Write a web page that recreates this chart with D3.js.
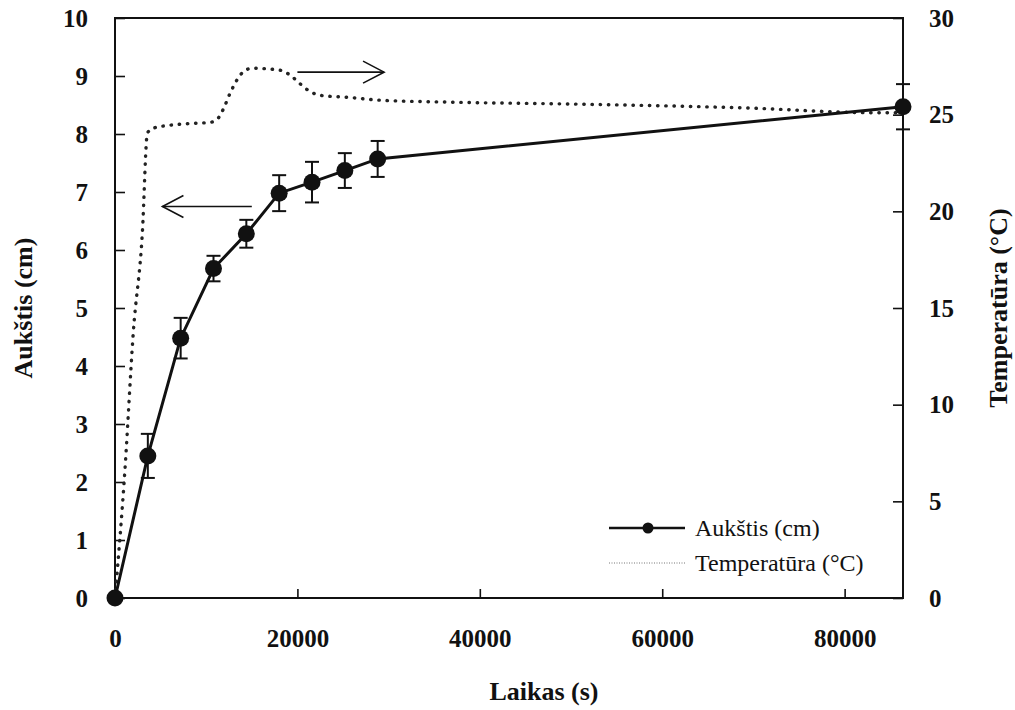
<!DOCTYPE html>
<html>
<head>
<meta charset="utf-8">
<script src="https://cdn.jsdelivr.net/npm/d3@7"></script>
<style>
	body { margin: 0; background: #fff; }
	svg text { font-family: 'Liberation Serif', 'Times New Roman', serif; fill: #111; }
	.tick text { font-size: 25px; font-weight: bold; }
	.title { font-size: 26px; font-weight: bold; }
	.legend text { font-size: 24px; }
</style>
</head>
<body>
<svg id="chart" width="1015" height="710"></svg>
<script>
// sampling times of the height measurements (s)
var timeS = [0, 3600, 7200, 10800, 14400, 18000, 21600, 25200, 28800, 86400];
var heightCm = [0, 2.45, 4.48, 5.68, 6.28, 6.98, 7.17, 7.37, 7.57, 8.47];
var heightErr = [0, 0.38, 0.35, 0.22, 0.24, 0.31, 0.35, 0.3, 0.31, 0.39];

// temperature log
var tempTimeS = [0, 1100, 2000, 3000, 3550, 4200, 6000, 8500, 10400, 11180, 11840, 12610, 13380, 14030, 15020, 18090, 19190, 20280, 21380, 22480, 25440, 29000, 36400, 50000, 69000, 83500, 86400];
var tempC = [0, 6.7, 13.7, 18.9, 24.05, 24.3, 24.45, 24.55, 24.6, 24.75, 25.25, 26.1, 26.8, 27.2, 27.4, 27.3, 27.05, 26.6, 26.2, 26.0, 25.9, 25.75, 25.65, 25.55, 25.35, 25.1, 25.1];

var xTicks = [0, 20000, 40000, 60000, 80000];
var heightTicks = [0, 1, 2, 3, 4, 5, 6, 7, 8, 9, 10];
var tempTicks = [0, 5, 10, 15, 20, 25, 30];

// arrows pointing at each curve's axis: [t start, t end, value]
var heightArrow = [15000, 5200, 6.75];
var tempArrow = [20000, 29500, 27.2];

var legendLabels = ['Aukštis (cm)', 'Temperatūra (°C)'];

var margin = {top: 18, right: 112, bottom: 112, left: 115},
	width = 1015 - margin.left - margin.right,
	height = 710 - margin.top - margin.bottom;

var svg = d3.select('#chart');
var g = svg.append('g').attr('transform', 'translate(' + margin.left + ',' + margin.top + ')');

var x = d3.scaleLinear().domain([0, 86400]).range([0, width]);
var yH = d3.scaleLinear().domain([0, 10]).range([height, 0]);
var yT = d3.scaleLinear().domain([0, 30]).range([height, 0]);

function styleAxis(sel) {
	sel.select('.domain').remove();
	sel.selectAll('.tick line').attr('stroke', '#111').attr('stroke-width', 1.6);
}

g.append('g')
	.attr('transform', 'translate(0,' + height + ')')
	.call(d3.axisBottom(x).tickValues(xTicks).tickFormat(d3.format('d')).tickSizeInner(-9).tickSizeOuter(0).tickPadding(31))
	.call(styleAxis);

g.append('g')
	.call(d3.axisLeft(yH).tickValues(heightTicks).tickSizeInner(-10).tickSizeOuter(0).tickPadding(27))
	.call(styleAxis);

g.append('g')
	.attr('transform', 'translate(' + width + ',0)')
	.call(d3.axisRight(yT).tickValues(tempTicks).tickSizeInner(-10).tickSizeOuter(0).tickPadding(26))
	.call(styleAxis);

svg.selectAll('.tick text').attr('font-family', null).attr('font-size', null);

g.append('rect')
	.attr('width', width)
	.attr('height', height)
	.attr('fill', 'none')
	.attr('stroke', '#111')
	.attr('stroke-width', 2);

// temperature, dotted
var tempLine = d3.line()
	.x(function (d) { return x(d[0]); })
	.y(function (d) { return yT(d[1]); })
	.curve(d3.curveMonotoneX);

g.append('path')
	.datum(d3.zip(tempTimeS, tempC))
	.attr('d', tempLine)
	.attr('fill', 'none')
	.attr('stroke', '#222')
	.attr('stroke-width', 3.4)
	.attr('stroke-linecap', 'round')
	.attr('stroke-dasharray', '0.4 7.8');

// height with error bars
var heightData = timeS.map(function (t, i) {
	return {t: t, h: heightCm[i], e: heightErr[i]};
});

var bars = g.append('g').attr('stroke', '#111').attr('stroke-width', 2);
heightData.forEach(function (d) {
	if (!d.e) return;
	var cx = x(d.t), top = yH(d.h + d.e), bot = yH(d.h - d.e);
	bars.append('line').attr('x1', cx).attr('x2', cx).attr('y1', top).attr('y2', bot);
	bars.append('line').attr('x1', cx - 7).attr('x2', cx + 7).attr('y1', top).attr('y2', top);
	bars.append('line').attr('x1', cx - 7).attr('x2', cx + 7).attr('y1', bot).attr('y2', bot);
});

g.append('path')
	.datum(heightData)
	.attr('d', d3.line().x(function (d) { return x(d.t); }).y(function (d) { return yH(d.h); }))
	.attr('fill', 'none')
	.attr('stroke', '#111')
	.attr('stroke-width', 3);

g.selectAll('circle.pt')
	.data(heightData)
	.enter().append('circle')
	.attr('class', 'pt')
	.attr('cx', function (d) { return x(d.t); })
	.attr('cy', function (d) { return yH(d.h); })
	.attr('r', 8.5)
	.attr('fill', '#111');

// arrows
function arrow(x1, x2, yy) {
	var dir = x2 > x1 ? -1 : 1;
	var a = g.append('g').attr('stroke', '#111').attr('stroke-width', 1.6).attr('fill', 'none');
	a.append('line').attr('x1', x1).attr('x2', x2).attr('y1', yy).attr('y2', yy);
	a.append('path').attr('d', 'M' + (x2 + dir * 21) + ',' + (yy - 11) + 'L' + x2 + ',' + yy + 'L' + (x2 + dir * 21) + ',' + (yy + 11));
}
arrow(x(heightArrow[0]), x(heightArrow[1]), yH(heightArrow[2]));
arrow(x(tempArrow[0]), x(tempArrow[1]), yT(tempArrow[2]));

// axis titles
svg.append('text').attr('class', 'title')
	.attr('x', 544).attr('y', 700)
	.attr('text-anchor', 'middle')
	.text('Laikas (s)');

svg.append('text').attr('class', 'title')
	.attr('transform', 'translate(32,308) rotate(-90)')
	.attr('text-anchor', 'middle')
	.text('Aukštis (cm)');

svg.append('text').attr('class', 'title')
	.attr('transform', 'translate(1007,308) rotate(-90)')
	.attr('text-anchor', 'middle')
	.text('Temperatūra (°C)');

// legend
var legend = svg.append('g').attr('class', 'legend').attr('transform', 'translate(609,528)');
legend.append('line').attr('x1', 0).attr('x2', 76).attr('y1', 0).attr('y2', 0)
	.attr('stroke', '#111').attr('stroke-width', 2.5);
legend.append('circle').attr('cx', 39).attr('cy', 0).attr('r', 5.5).attr('fill', '#111');
legend.append('line').attr('x1', 0).attr('x2', 76).attr('y1', 35).attr('y2', 35)
	.attr('stroke', '#777').attr('stroke-width', 1).attr('stroke-dasharray', '1 1.5');
legend.selectAll('text')
	.data(legendLabels)
	.enter().append('text')
	.attr('x', 86)
	.attr('y', function (d, i) { return i * 35 + 8; })
	.text(function (d) { return d; });
</script>
</body>
</html>
